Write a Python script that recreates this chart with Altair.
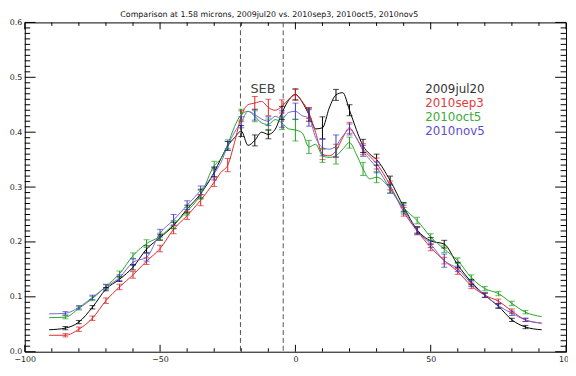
import altair as alt
import pandas as pd

# ---------------- data ----------------
LAT = [-91, -85, -80, -75, -70, -65, -60, -55, -50, -45, -40, -35, -30, -27.5, -25, -22.5,
       -20, -17.5, -15, -12.5, -10, -7.5, -5, -2.5, 0, 2.5, 5, 7.5, 10, 12.5, 15, 17.5,
       20, 22.5, 25, 27.5, 30, 35, 40, 45, 50, 55, 60, 65, 70, 75, 80, 85, 91]

JUL20 = [0.040, 0.043, 0.054, 0.081, 0.114, 0.132, 0.154, 0.187, 0.208, 0.230, 0.260, 0.288,
         0.327, 0.352, 0.375, 0.390, 0.402, 0.376, 0.385, 0.400, 0.396, 0.405, 0.435, 0.458,
         0.469, 0.455, 0.432, 0.406, 0.408, 0.444, 0.468, 0.472, 0.440, 0.405, 0.375, 0.360,
         0.350, 0.312, 0.264, 0.222, 0.202, 0.196, 0.158, 0.127, 0.103, 0.083, 0.058, 0.045,
         0.040]

SEP3 = [0.030, 0.030, 0.041, 0.061, 0.093, 0.118, 0.140, 0.165, 0.188, 0.223, 0.248, 0.276,
        0.309, 0.327, 0.340, 0.381, 0.429, 0.450, 0.453, 0.456, 0.445, 0.440, 0.447, 0.460,
        0.468, 0.456, 0.435, 0.399, 0.360, 0.357, 0.366, 0.390, 0.408, 0.390, 0.369, 0.356,
        0.343, 0.303, 0.255, 0.220, 0.190, 0.166, 0.146, 0.120, 0.103, 0.092, 0.074, 0.058,
        0.052]

OCT5 = [0.062, 0.063, 0.079, 0.097, 0.119, 0.142, 0.175, 0.197, 0.210, 0.232, 0.256, 0.286,
        0.339, 0.352, 0.378, 0.410, 0.432, 0.438, 0.429, 0.417, 0.414, 0.423, 0.417, 0.406,
        0.404, 0.399, 0.373, 0.378, 0.357, 0.354, 0.357, 0.369, 0.381, 0.360, 0.333, 0.315,
        0.318, 0.297, 0.262, 0.239, 0.209, 0.187, 0.166, 0.135, 0.115, 0.106, 0.088, 0.072,
        0.064]

NOV5 = [0.069, 0.070, 0.081, 0.099, 0.118, 0.135, 0.163, 0.172, 0.216, 0.240, 0.267, 0.294,
        0.325, 0.345, 0.375, 0.400, 0.418, 0.438, 0.432, 0.424, 0.420, 0.429, 0.424, 0.436,
        0.438, 0.430, 0.426, 0.390, 0.372, 0.369, 0.375, 0.393, 0.405, 0.390, 0.366, 0.350,
        0.336, 0.297, 0.259, 0.220, 0.196, 0.166, 0.151, 0.124, 0.103, 0.084, 0.070, 0.058,
        0.052]

BAR_LAT = [-85, -80, -75, -70, -65, -60, -55, -50, -45, -40, -35, -30, -25, -20, -15, -10, -5,
           0, 5, 10, 15, 20, 25, 30, 35, 40, 45, 50, 55, 60, 65, 70, 75, 80, 85]

ERR_JUL20 = [0.003, 0.003, 0.003, 0.003, 0.004, 0.005, 0.006, 0.005, 0.006, 0.007, 0.008, 0.008,
             0.008, 0.010, 0.010, 0.008, 0.012, 0.010, 0.012, 0.020, 0.010, 0.010, 0.012, 0.010,
             0.008, 0.008, 0.006, 0.006, 0.007, 0.005, 0.005, 0.004, 0.004, 0.003, 0.003]
ERR_SEP3 = [0.003, 0.004, 0.004, 0.005, 0.005, 0.006, 0.006, 0.006, 0.008, 0.007, 0.010, 0.008,
            0.012, 0.010, 0.012, 0.015, 0.012, 0.010, 0.010, 0.010, 0.012, 0.010, 0.010, 0.010,
            0.008, 0.008, 0.007, 0.006, 0.006, 0.005, 0.005, 0.004, 0.004, 0.004, 0.003]
ERR_OCT5 = [0.003, 0.003, 0.004, 0.004, 0.005, 0.005, 0.007, 0.006, 0.007, 0.007, 0.008, 0.008,
            0.008, 0.010, 0.010, 0.010, 0.012, 0.020, 0.012, 0.012, 0.015, 0.010, 0.012, 0.010,
            0.008, 0.008, 0.006, 0.006, 0.006, 0.005, 0.005, 0.004, 0.004, 0.004, 0.003]
ERR_NOV5 = [0.003, 0.003, 0.004, 0.004, 0.005, 0.006, 0.007, 0.007, 0.010, 0.008, 0.008, 0.012,
            0.008, 0.010, 0.010, 0.008, 0.015, 0.015, 0.015, 0.015, 0.020, 0.010, 0.010, 0.010,
            0.008, 0.008, 0.006, 0.006, 0.012, 0.005, 0.005, 0.004, 0.004, 0.004, 0.003]

SERIES = ["2009jul20", "2010sep3", "2010oct5", "2010nov5"]
LINE_COLORS = ["#000000", "#e02828", "#25a625", "#7468dc"]
BAR_COLORS = ["#000000", "#d82020", "#1f9e1f", "#3a32c8"]
TEXT_COLORS = ["#333333", "#e03c3c", "#3aaa3a", "#5a4ed0"]

X_MAJOR = [-100, -50, 0, 50, 100]
X_MINOR = [-90, -80, -70, -60, -40, -30, -20, -10, 10, 20, 30, 40, 60, 70, 80, 90]
Y_MAJOR = [0.0, 0.1, 0.2, 0.3, 0.4, 0.5, 0.6]
Y_MINOR = [round(i / 100, 2) for i in range(1, 60) if i % 10 != 0]
SEB_BOUNDS = [-20.3, -4.5]

TITLE = "Comparison at 1.58 microns, 2009jul20 vs. 2010sep3, 2010oct5, 2010nov5"

# ---------------- tables ----------------
curves = pd.concat(
    [pd.DataFrame({"lat": LAT, "val": v, "series": s})
     for s, v in zip(SERIES, [JUL20, SEP3, OCT5, NOV5])],
    ignore_index=True,
)
bar_frames = []
for s, e in zip(SERIES, [ERR_JUL20, ERR_SEP3, ERR_OCT5, ERR_NOV5]):
    c = curves[curves.series == s].set_index("lat")["val"]
    centers = [float(c.loc[b]) for b in BAR_LAT]
    bar_frames.append(pd.DataFrame({
        "lat": BAR_LAT, "bseries": s,
        "lo": [m - d for m, d in zip(centers, e)],
        "hi": [m + d for m, d in zip(centers, e)],
    }))
bars = pd.concat(bar_frames, ignore_index=True)

W, H = 549, 334
XS = alt.Scale(domain=[-100, 100], nice=False, zero=False)
YS = alt.Scale(domain=[0, 0.6], nice=False, zero=False)
XAX = alt.Axis(values=X_MAJOR, format="d", ticks=False, domain=False, grid=False,
               labelFontSize=8, labelFont="DejaVu Sans", labelColor="#222222",
               labelPadding=4, labelFlush=False, labelOverlap=False, title=None)
YAX = alt.Axis(values=Y_MAJOR, format=".1f", ticks=False, domain=False, grid=False,
               labelFontSize=8, labelFont="DejaVu Sans", labelColor="#222222",
               labelPadding=3, labelOverlap=False, title=None)


def X(field=None, datum=None):
    if datum is not None:
        return alt.X(datum=datum, type="quantitative", scale=XS, axis=XAX, title=None)
    return alt.X(field, type="quantitative", scale=XS, axis=XAX, title=None)


def Y(field=None, datum=None):
    if datum is not None:
        return alt.Y(datum=datum, type="quantitative", scale=YS, axis=YAX, title=None)
    return alt.Y(field, type="quantitative", scale=YS, axis=YAX, title=None)


line_color = alt.Color("series:N", scale=alt.Scale(domain=SERIES, range=LINE_COLORS),
                       legend=None)
bar_color = alt.Stroke("bseries:N", scale=alt.Scale(domain=SERIES, range=BAR_COLORS),
                       legend=None)

seb = alt.Chart(pd.DataFrame({"lat": SEB_BOUNDS})).mark_rule(
    color="#555555", strokeWidth=1, strokeDash=[5, 3]
).encode(x=X("lat"))

lines = alt.Chart(curves).mark_line(interpolate="monotone", strokeWidth=1).encode(
    x=X("lat"), y=Y("val"), color=line_color, detail="series:N",
    order=alt.Order("lat:Q"),
)

err_rules = alt.Chart(bars).mark_rule(strokeWidth=1).encode(
    x=X("lat"), y=Y("lo"), y2="hi:Q", stroke=bar_color
)
cap_lo = alt.Chart(bars).mark_tick(orient="horizontal", size=6, thickness=1).encode(
    x=X("lat"), y=Y("lo"), color=alt.Color("bseries:N", scale=alt.Scale(domain=SERIES, range=BAR_COLORS), legend=None)
)
cap_hi = alt.Chart(bars).mark_tick(orient="horizontal", size=6, thickness=1).encode(
    x=X("lat"), y=Y("hi"), color=alt.Color("bseries:N", scale=alt.Scale(domain=SERIES, range=BAR_COLORS), legend=None)
)

seb_text = alt.Chart(pd.DataFrame({"t": ["SEB"]})).mark_text(
    fontSize=13, font="DejaVu Sans", color="#444444", align="center", baseline="middle"
).encode(x=X(datum=-12), y=Y(datum=0.478), text="t:N")

LEG_X = 48.0
LEG_Y = [0.479, 0.453, 0.428, 0.402]
legend_layers = [
    alt.Chart(pd.DataFrame({"t": [s]})).mark_text(
        fontSize=12, font="DejaVu Sans", color=tc, align="left", baseline="middle"
    ).encode(x=X(datum=LEG_X), y=Y(datum=ly), text="t:N")
    for s, tc, ly in zip(SERIES, TEXT_COLORS, LEG_Y)
]

title_text = alt.Chart(pd.DataFrame({"t": [TITLE]})).mark_text(
    fontSize=8, font="DejaVu Sans", color="#111111", align="center", baseline="middle"
).encode(x=alt.value(248), y=alt.value(-8), text="t:N")

TICK_X_MAJ, TICK_X_MIN, TICK_Y_MAJ, TICK_Y_MIN = 7, 3.5, 11, 5.5
xmaj = pd.DataFrame({"v": X_MAJOR})
xmin = pd.DataFrame({"v": X_MINOR})
ymaj = pd.DataFrame({"v": Y_MAJOR})
ymin = pd.DataFrame({"v": Y_MINOR})
tick_layers = []
for df, ln in [(xmaj, TICK_X_MAJ), (xmin, TICK_X_MIN)]:
    tick_layers.append(alt.Chart(df).mark_rule(color="black", strokeWidth=1).encode(
        x=X("v"), y=alt.value(H), y2=alt.value(H - ln)))
    tick_layers.append(alt.Chart(df).mark_rule(color="black", strokeWidth=1).encode(
        x=X("v"), y=alt.value(0), y2=alt.value(ln)))
for df, ln in [(ymaj, TICK_Y_MAJ), (ymin, TICK_Y_MIN)]:
    tick_layers.append(alt.Chart(df).mark_rule(color="black", strokeWidth=1).encode(
        y=Y("v"), x=alt.value(0), x2=alt.value(ln)))
    tick_layers.append(alt.Chart(df).mark_rule(color="black", strokeWidth=1).encode(
        y=Y("v"), x=alt.value(W), x2=alt.value(W - ln)))

chart = alt.layer(
    seb, lines, err_rules, cap_lo, cap_hi, seb_text, *legend_layers, title_text, *tick_layers
).resolve_scale(color="independent", stroke="independent").properties(
    width=W, height=H,
    autosize=alt.AutoSizeParams(type="none"),
    padding={"left": 17, "top": 12, "right": 2, "bottom": 22},
    background="white",
).configure_view(stroke="black", strokeWidth=1)

chart.save("out.html", embed_options={"renderer": "svg", "actions": False})
